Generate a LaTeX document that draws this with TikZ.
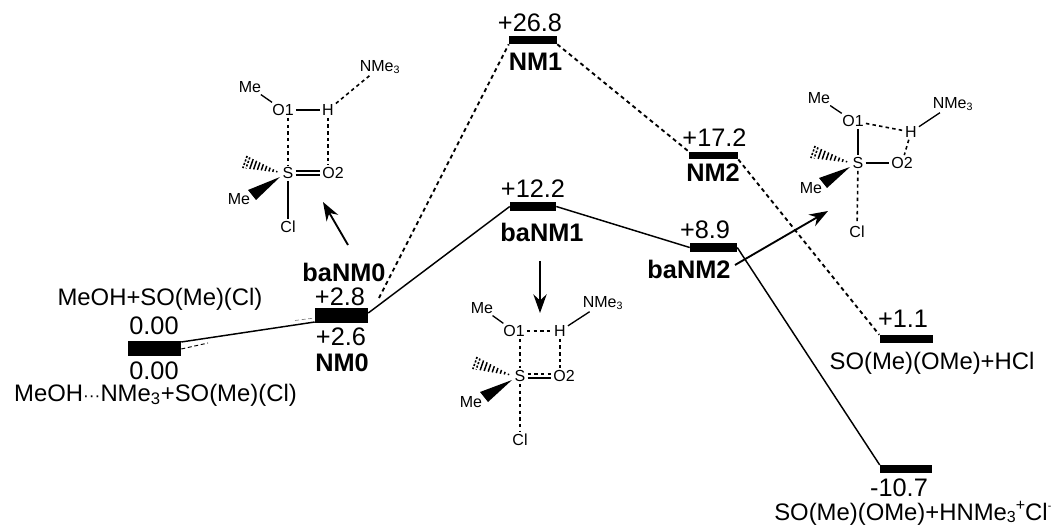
\documentclass[tikz,border=0pt]{standalone}
\usepackage{fontspec}
\setmainfont{Liberation Sans}
\usetikzlibrary{calc,arrows.meta}
\tikzset{
  lvl/.style={fill=black,draw=none,inner sep=0pt,rectangle},
  lab/.style={font=\fontsize{17.9}{19}\selectfont,inner sep=0pt},
  num/.style={font=\fontsize{19}{21}\selectfont,inner sep=0pt},
  blab/.style={font=\fontsize{19}{21}\selectfont\bfseries,inner sep=0pt},
  at3/.style={font=\fontsize{12}{14}\selectfont,inner sep=1pt},
  sol/.style={line width=1.1pt},
  dsh/.style={line width=1.4pt,dash pattern=on 3pt off 2.6pt},
  bnd/.style={line width=1pt,shorten >=0.5pt,shorten <=0.5pt},
  hb/.style={line width=1.2pt,dash pattern=on 2.6pt off 2.4pt,shorten >=0.5pt,shorten <=0.5pt},
  poin/.style={line width=1.4pt,-{Stealth[length=14pt,width=10pt]}}
}
\newcommand{\hashwedge}[2]{%
  \foreach \t/\w in {0.12/0.7,0.22/1.3,0.32/1.9,0.42/2.5,0.52/3.1,0.62/3.7,0.72/4.3,0.82/4.9}{%
    \draw[line width=1.1pt] ($(#1)!\t!(#2)+(0.35*\w,-\w)$) -- ($(#1)!\t!(#2)+(-0.35*\w,\w)$);}
  \foreach \t/\w in {0.92/5.5,1.0/6.1}{%
    \draw[line width=1.2pt,dash pattern=on 1.6pt off 1.2pt] ($(#1)!\t!(#2)+(0.35*\w,-\w)$) -- ($(#1)!\t!(#2)+(-0.35*\w,\w)$);}}
\newcommand{\solidwedge}[2]{%
  \fill (#1) -- ($(#2)+(-4,-5)$) -- ($(#2)+(4,5)$) -- cycle;}
\begin{document}
\begin{tikzpicture}[x=0.75pt,y=-0.75pt]
\useasboundingbox (0,0) rectangle (1056,527);
% level bars
\node[lvl,minimum width=39.75pt,minimum height=11.25pt] (L0) at (154.5,348.5) {};
\node[lvl,minimum width=39.75pt,minimum height=11.25pt] (NM0) at (341.5,315.5) {};
\node[lvl,minimum width=36pt,minimum height=6pt] (NM1) at (533,40) {};
\node[lvl,minimum width=34.5pt,minimum height=6.75pt] (baNM1) at (533,206.5) {};
\node[lvl,minimum width=36.75pt,minimum height=5.5pt] (NM2) at (713.5,155.5) {};
\node[lvl,minimum width=35.25pt,minimum height=6.5pt] (baNM2) at (713.5,247.5) {};
\node[lvl,minimum width=39.75pt,minimum height=6pt] (P1) at (906,339) {};
\node[lvl,minimum width=39pt,minimum height=6pt] (P2) at (906,469) {};
% connectors
\coordinate (d1) at (208,343);
\coordinate (d2) at (295,320.5);
\draw[line width=0.7pt,dash pattern=on 3pt off 2pt] (L0.east|-0,349) -- (d1);
\draw[line width=0.5pt,gray,dash pattern=on 3pt off 2pt] (d2) -- (NM0.west|-0,318);
\draw[sol] (L0.east|-0,342) -- (NM0.west|-0,322);
\draw[sol] (NM0.east|-0,313) -- (baNM1.west);
\draw[sol] (baNM1.east) -- (baNM2.west);
\draw[sol] (baNM2.east) -- (P2.west|-0,465);
\coordinate (n0d) at (379,298);
\draw[dsh] (n0d) -- (NM1.south west);
\draw[dsh] (NM1.south east) -- (NM2.north west);
\draw[dsh] (NM2.south east) -- (P1.north west);
% labels
\node[lab] (t1) at (160,299) {MeOH+SO(Me)(Cl)};
\node[num] at (154,326) {0.00};
\node[num] at (154,371) {0.00};
\node[lab] (t2) at (155.5,395) {MeOH{\fontsize{13}{13}\selectfont ···}NMe\textsubscript{3}+SO(Me)(Cl)};
\node[blab] at (344,272) {baNM0};
\node[num] at (340,297) {+2.8};
\node[num] at (341,337) {+2.6};
\node[blab] at (342,363) {NM0};
\node[num] at (530,23) {+26.8};
\node[blab] at (535.5,62) {NM1};
\node[num] at (533,189) {+12.2};
\node[blab] at (542,232) {baNM1};
\node[num] at (714.5,138) {+17.2};
\node[blab] at (713,173) {NM2};
\node[num] at (705,230) {+8.9};
\node[blab] at (689,269) {baNM2};
\node[num] at (903,319) {+1.1};
\node[lab] at (932,363) {SO(Me)(OMe)+HCl};
\node[num] at (899,488) {-10.7};
\node[lab,anchor=base west,font=\fontsize{17.9}{20}\selectfont] at (774,520) {SO(Me)(OMe)+HNMe\raisebox{-2pt}{\fontsize{12}{12}\selectfont 3}\raisebox{7pt}{\fontsize{12}{12}\selectfont +}Cl\raisebox{8pt}{\fontsize{8}{8}\selectfont -}};
% molecule A
\node[at3] (aMe) at (250,87) {Me};
\node[at3] (aO1) at (283,110) {O1};
\node[at3] (aH) at (328,110) {H};
\node[at3] (aN) at (380,67) {NMe\textsubscript{3}};
\node[at3] (aS) at (288,173) {S};
\node[at3] (aO2) at (333,173) {O2};
\node[at3] (aMe2) at (239,199) {Me};
\node[at3] (aCl) at (288,227) {Cl};
\coordinate (aH1) at (245,162);
\coordinate (aW1) at (252,195);
\coordinate (aT) at (280,177);
\draw[bnd] (aMe) -- (aO1);
\draw[bnd] (aO1) -- (aH);
\draw[hb] (aH) -- (aN);
\draw[hb] (aO1.south-|aS) -- (aS);
\draw[hb] (aH) -- (aO2.north-|aH);
\draw[bnd] ($(aS.east)+(0,-2)$) -- ($(aO2.west)+(0,-2)$);
\draw[bnd] ($(aS.east)+(0,2)$) -- ($(aO2.west)+(0,2)$);
\draw[bnd] (aS) -- (aCl);
\hashwedge{aS.west}{aH1}
\solidwedge{aT}{aW1}
\coordinate (ar1s) at (348,245);
\coordinate (ar1e) at (323,202);
\draw[poin] (ar1s) -- (ar1e);
% molecule B
\node[at3] (bMe) at (482,308) {Me};
\node[at3] (bO1) at (514,331) {O1};
\node[at3] (bH) at (560,331) {H};
\node[at3] (bN) at (603,303) {NMe\textsubscript{3}};
\node[at3] (bS) at (520,376) {S};
\node[at3] (bO2) at (564,376) {O2};
\node[at3] (bMe2) at (471,402) {Me};
\node[at3] (bCl) at (520,440) {Cl};
\coordinate (bH1) at (475,363);
\coordinate (bW1) at (484,397);
\coordinate (bT) at (512,380);
\draw[bnd] (bMe) -- (bO1);
\draw[hb] (bO1) -- (bH);
\draw[bnd] (bH) -- (bN);
\draw[hb] (bO1.south-|bS) -- (bS);
\draw[hb] (bH) -- (bO2.north-|bH);
\draw[hb] ($(bS.east)+(0,-2)$) -- ($(bO2.west)+(0,-2)$);
\draw[bnd] ($(bS.east)+(0,2)$) -- ($(bO2.west)+(0,2)$);
\draw[hb] (bS) -- (bCl);
\hashwedge{bS.west}{bH1}
\solidwedge{bT}{bW1}
\coordinate (ar2s) at (540,261);
\coordinate (ar2e) at (540,313);
\draw[poin] (ar2s) -- (ar2e);
% molecule C
\node[at3] (cMe) at (819,98) {Me};
\node[at3] (cO1) at (853,121) {O1};
\node[at3] (cH) at (911,132) {H};
\node[at3] (cN) at (953,104) {NMe\textsubscript{3}};
\node[at3] (cS) at (858,163) {S};
\node[at3] (cO2) at (902,163) {O2};
\node[at3] (cMe2) at (811,188) {Me};
\node[at3] (cCl) at (857,232) {Cl};
\coordinate (cH1) at (813,152);
\coordinate (cW1) at (823,183);
\coordinate (cT) at (850,167);
\draw[bnd] (cMe) -- (cO1);
\draw[hb] (cO1) -- (cH);
\draw[bnd] (cH) -- (cN);
\draw[bnd] (cO1.south-|cS) -- (cS);
\draw[hb] (cH) -- (cO2);
\draw[bnd] (cS) -- (cO2);
\draw[hb] (cS) -- (cCl);
\hashwedge{cS.west}{cH1}
\solidwedge{cT}{cW1}
\coordinate (ar3s) at (735,265);
\coordinate (ar3e) at (828,211);
\draw[poin] (ar3s) -- (ar3e);
\end{tikzpicture}
\end{document}
